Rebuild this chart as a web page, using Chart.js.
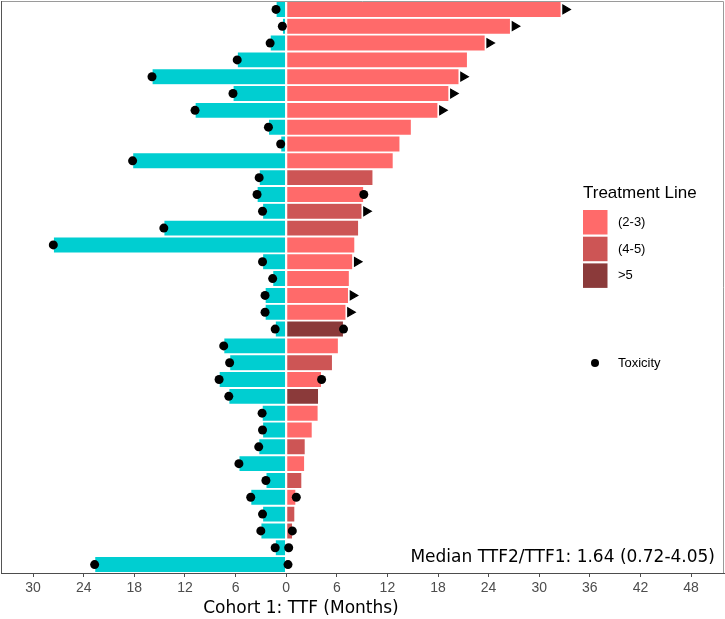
<!DOCTYPE html>
<html>
<head>
<meta charset="utf-8">
<script src="https://cdn.jsdelivr.net/npm/chart.js@4"></script>
<style>
  html, body { margin: 0; padding: 0; background: #fff; }
  #wrap { width: 725px; height: 619px; }
</style>
</head>
<body>
<div id="wrap"><canvas id="chart" width="725" height="619"></canvas></div>
<script>
// one row per patient, top to bottom
var patients = [];
for (var i = 1; i <= 34; i++) patients.push('P' + i);

// months on first therapy (drawn to the left)
var ttf1 = [1.2, 0.45, 1.9, 5.8, 15.9, 6.3, 10.8, 2.1, 0.65, 18.2,
            3.2, 3.45, 2.8, 14.5, 27.6, 2.8, 1.6, 2.5, 2.5, 1.3,
            7.4, 6.7, 7.95, 6.8, 2.85, 2.8, 3.25, 5.6, 2.4, 4.2,
            2.8, 3.0, 1.3, 22.7];

// months on second therapy (drawn to the right)
var ttf2 = [32.6, 26.6, 23.6, 21.5, 20.5, 19.3, 18.0, 14.85, 13.5, 12.7,
            10.3, 9.2, 9.0, 8.6, 8.15, 7.9, 7.5, 7.4, 7.1, 6.8,
            6.2, 5.5, 4.2, 3.85, 3.8, 3.1, 2.27, 2.2, 1.87, 1.16,
            1.04, 0.77, 0.2, 0.2];

// treatment line of the second therapy
var treatmentLine = ['(2-3)', '(2-3)', '(2-3)', '(2-3)', '(2-3)', '(2-3)', '(2-3)', '(2-3)', '(2-3)', '(2-3)',
                     '(4-5)', '(2-3)', '(4-5)', '(4-5)', '(2-3)', '(2-3)', '(2-3)', '(2-3)', '(2-3)', '>5',
                     '(2-3)', '(4-5)', '(2-3)', '>5', '(2-3)', '(2-3)', '(4-5)', '(2-3)', '(4-5)', '(2-3)',
                     '(4-5)', '(4-5)', '(2-3)', '(2-3)'];

// toxicity on the second therapy side (null = none)
var tox2 = [null, null, null, null, null, null, null, null, null, null,
            null, 9.2, null, null, null, null, null, null, null, 6.8,
            null, null, 4.2, null, null, null, null, null, null, 1.2,
            null, 0.73, 0.3, 0.22];

// still on therapy (arrow at end of bar)
var ongoing = [1, 1, 1, 0, 1, 1, 1, 0, 0, 0,
               0, 0, 1, 0, 0, 1, 0, 1, 1, 0,
               0, 0, 0, 0, 0, 0, 0, 0, 0, 0,
               0, 0, 0, 0];

var lineLevels = ['(2-3)', '(4-5)', '>5'];
var lineColors = { '(2-3)': '#FF6A6A', '(4-5)': '#CD5555', '>5': '#8B3A3A' };
var xTicks = [-30, -24, -18, -12, -6, 0, 6, 12, 18, 24, 30, 36, 42, 48];
var medianText = 'Median TTF2/TTF1: 1.64 (0.72-4.05)';

var leftDots = ttf1.map(function (v, i) { return { x: -v, y: patients[i] }; });
var rightDots = [];
tox2.forEach(function (v, i) { if (v !== null) rightDots.push({ x: v, y: patients[i] }); });
var arrows = [];
ongoing.forEach(function (v, i) { if (v) arrows.push({ x: ttf2[i] + 0.5, y: patients[i] }); });

var extras = {
  id: 'extras',
  afterDraw: function (chart) {
    var ctx = chart.ctx;
    var a = chart.chartArea;
    ctx.save();
    // panel border
    ctx.strokeStyle = '#9a9a9a';
    ctx.lineWidth = 1;
    ctx.beginPath();
    ctx.moveTo(a.left, a.top + 0.5);
    ctx.lineTo(a.right - 0.5, a.top + 0.5);
    ctx.lineTo(a.right - 0.5, a.bottom);
    ctx.stroke();
    ctx.strokeStyle = '#555';
    ctx.beginPath();
    ctx.moveTo(a.left + 0.5, a.top);
    ctx.lineTo(a.left + 0.5, a.bottom);
    ctx.stroke();

    // legend
    ctx.fillStyle = '#000';
    ctx.textBaseline = 'middle';
    ctx.textAlign = 'left';
    ctx.font = '17px "Liberation Sans", Arial, sans-serif';
    ctx.fillText('Treatment Line', 583, 193);
    ctx.font = '13px "Liberation Sans", Arial, sans-serif';
    lineLevels.forEach(function (lv, k) {
      var y = 210 + k * 26.7;
      ctx.fillStyle = lineColors[lv];
      ctx.fillRect(583, y, 24.5, 24.5);
      ctx.fillStyle = '#000';
      ctx.fillText(lv, 618, y + 12.5);
    });
    ctx.beginPath();
    ctx.arc(595, 363, 4, 0, Math.PI * 2);
    ctx.fill();
    ctx.fillText('Toxicity', 618, 363);

    // median annotation
    ctx.font = '17px "DejaVu Sans", Verdana, sans-serif';
    ctx.textAlign = 'right';
    ctx.textBaseline = 'alphabetic';
    ctx.fillText(medianText, 715, 562);

    // axis title
    ctx.textAlign = 'center';
    ctx.fillText('Cohort 1: TTF (Months)', 301, 613);
    ctx.restore();
  }
};

new Chart(document.getElementById('chart'), {
  data: {
    labels: patients,
    datasets: [
      {
        type: 'line', label: 'Toxicity', data: leftDots, showLine: false, order: 0,
        pointRadius: 4.5, pointBackgroundColor: '#000', pointBorderWidth: 0
      },
      {
        type: 'line', label: 'Toxicity 2', data: rightDots, showLine: false, order: 0,
        pointRadius: 4.5, pointBackgroundColor: '#000', pointBorderWidth: 0
      },
      {
        type: 'line', label: 'Ongoing', data: arrows, showLine: false, order: 0,
        pointStyle: 'triangle', rotation: 90, pointRadius: 5,
        pointBackgroundColor: '#000', pointBorderColor: '#000', pointBorderWidth: 1.2
      },
      {
        type: 'bar', label: 'TTF1', data: ttf1.map(function (v) { return -v; }), order: 1,
        grouped: false, backgroundColor: '#00CED1', borderColor: '#fff',
        borderWidth: 0.6, borderSkipped: false, barPercentage: 0.96, categoryPercentage: 1
      },
      {
        type: 'bar', label: 'TTF2', data: ttf2, order: 1,
        grouped: false, backgroundColor: treatmentLine.map(function (t) { return lineColors[t]; }),
        borderColor: '#fff', borderWidth: 0.6, borderSkipped: false,
        barPercentage: 0.96, categoryPercentage: 1
      }
    ]
  },
  options: {
    indexAxis: 'y',
    responsive: false,
    animation: false,
    layout: { autoPadding: false, padding: { left: 1, right: 1, top: 1, bottom: 0 } },
    plugins: { legend: { display: false }, tooltip: { enabled: false } },
    scales: {
      y: { type: 'category', display: false, offset: true },
      x: {
        type: 'linear', min: -33.8, max: 51.9,
        afterBuildTicks: function (axis) {
          axis.ticks = xTicks.map(function (v) { return { value: v }; });
        },
        afterFit: function (axis) { axis.height = 46; },
        grid: { drawOnChartArea: false, drawTicks: true, tickLength: 4, color: '#4D4D4D' },
        border: { display: true, color: '#4D4D4D', width: 1 },
        ticks: {
          color: '#4D4D4D', padding: 3, maxRotation: 0, autoSkip: false,
          font: { family: '"Liberation Sans", Arial, sans-serif', size: 14 },
          callback: function (v) { return Math.abs(v); }
        }
      }
    }
  },
  plugins: [extras]
});
</script>
</body>
</html>
